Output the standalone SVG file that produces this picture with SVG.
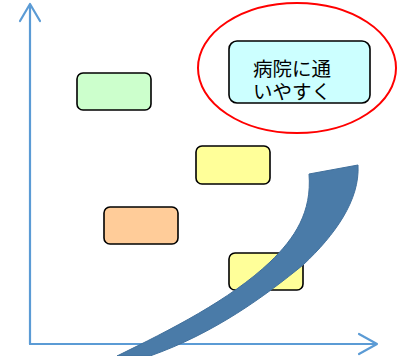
<svg xmlns="http://www.w3.org/2000/svg" width="397" height="356" viewBox="0 0 397 356">
<style>
.box{stroke:#000;stroke-width:1.6}
.axis{fill:none;stroke:#5B9BD5;stroke-width:2.2;stroke-linecap:round;stroke-linejoin:round}
.lbl{font-family:"Noto Sans CJK JP","Noto Sans",sans-serif;font-size:19.5px;fill:#000}
</style>
<rect width="397" height="356" fill="#fff"/>
<g id="axes" class="axis">
<path d="M30,344 L30,4 M20,21 L30,4 L40,21"/>
<path d="M30,344 L377,344 M359,334 L377,344 L359,354"/>
</g>
<g id="node-green"><rect class="box" x="77" y="73" width="74" height="37" rx="6" fill="#CCFFCC"/></g>
<g id="node-yellow1"><rect class="box" x="196" y="146" width="74" height="38" rx="6" fill="#FFFF99"/></g>
<g id="node-orange"><rect class="box" x="104" y="207" width="74" height="37" rx="6" fill="#FFCC99"/></g>
<g id="node-yellow2"><rect class="box" x="229" y="253" width="74" height="37" rx="6" fill="#FFFF99"/></g>
<g id="connectors">
<path d="M309,174 L358,165 C360,200 335,235 303,265 C265,296 215,333 150,356 L117,356 C170,330 230,300 270,262 C295,238 312,212 309,174 Z" fill="#4A7BA8" stroke="#41709C" stroke-width="1"/>
</g>
<g id="node-goal">
<ellipse cx="297" cy="68" rx="99" ry="65" fill="none" stroke="#FF0000" stroke-width="2"/>
<rect class="box" x="229" y="41" width="141" height="62" rx="8" fill="#CCFFFF"/>
<text class="lbl"><tspan x="253" y="76">病院に通</tspan><tspan x="253" y="99">いやすく</tspan></text>
</g>
</svg>
